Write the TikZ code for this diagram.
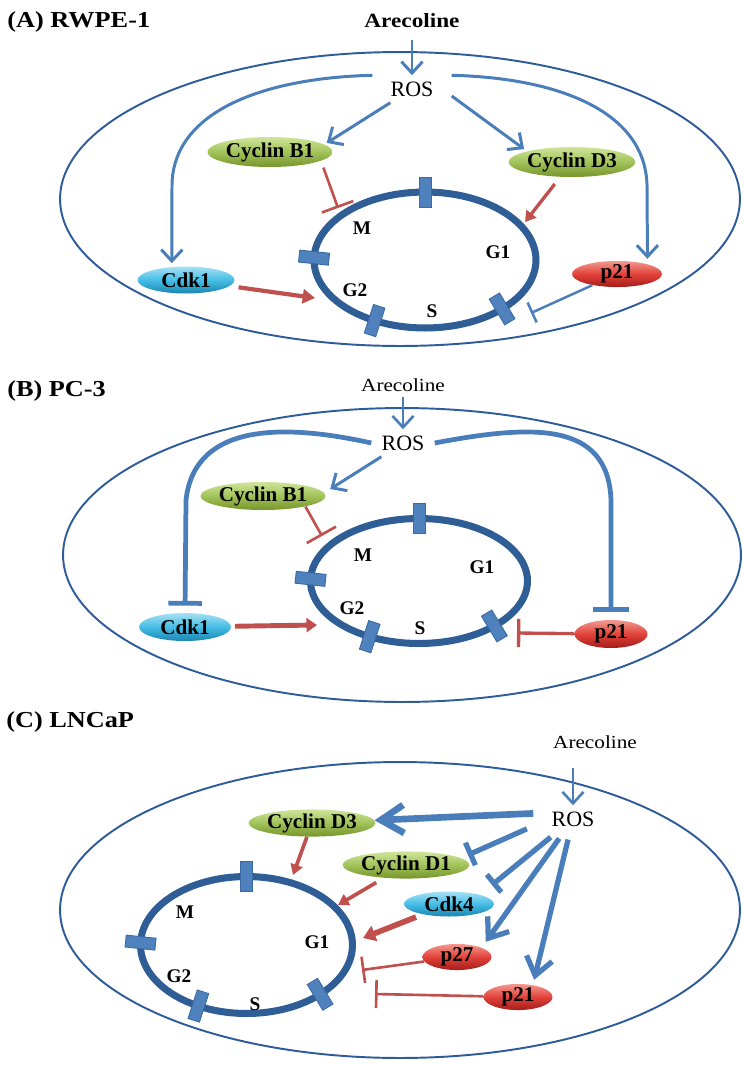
\documentclass[tikz,border=0pt]{standalone}
\usepackage{fontspec}
\setmainfont{Liberation Serif}
\newfontfamily\headfont{Liberation Serif}[FakeStretch=1.15]
\usepackage{xcolor}
\usepackage{tikz}
\usetikzlibrary{shapes.geometric,arrows.meta,calc}

\definecolor{cellblue}{HTML}{2E5C9A}
\definecolor{ringblue}{HTML}{2F5D95}
\definecolor{tickblue}{HTML}{4F81BD}
\definecolor{tickedge}{HTML}{3A6AA6}
\definecolor{arrblue}{HTML}{4A7EBB}
\definecolor{arrred}{HTML}{C0504D}
\definecolor{grtop}{HTML}{CFE59A}
\definecolor{grmid}{HTML}{A2C35A}
\definecolor{grbot}{HTML}{76952B}
\definecolor{cytop}{HTML}{A6E1F4}
\definecolor{cymid}{HTML}{45BDE6}
\definecolor{cybot}{HTML}{1B86B0}
\definecolor{rdtop}{HTML}{F29A90}
\definecolor{rdmid}{HTML}{E2423A}
\definecolor{rdbot}{HTML}{A41D1B}

\begin{document}
\begin{tikzpicture}[x=0.02cm, y=-0.02cm,
      panel/.style={font=\headfont\bfseries\fontsize{13}{15}\selectfont, anchor=base west, inner sep=0pt},
      drug/.style={font=\headfont\fontsize{10.5}{12}\selectfont, anchor=base},
      ros/.style={font=\fontsize{12.5}{14}\selectfont, inner xsep=0.36cm, inner ysep=0.12cm},
      phase/.style={font=\bfseries\fontsize{11}{13}\selectfont},
      cell/.style={ellipse, draw=cellblue, line width=1.1pt, inner sep=0pt},
      ring/.style={ellipse, draw=ringblue, line width=4pt, inner sep=0pt},
      tick/.style={rectangle, draw=tickedge, fill=tickblue, line width=0.5pt, inner sep=0pt,
        minimum width=0.24cm, minimum height=0.6cm},
      protein/.style={ellipse, inner sep=0pt, font=\bfseries\fontsize{12}{14}\selectfont},
      cyclin/.style={protein, top color=grtop, bottom color=grbot, middle color=grmid},
      cdk/.style={protein, top color=cytop, bottom color=cybot, middle color=cymid},
      cki/.style={protein, top color=rdtop, bottom color=rdbot, middle color=rdmid},
      act/.style={draw=arrblue, line width=1.7pt, -{Straight Barb[length=6.5pt,width=12pt]}},
      stopb/.style={draw=arrblue, line width=2.7pt, -{Bar[width=19pt]}},
      push/.style={draw=arrred, line width=2pt, -{Triangle[length=6pt,width=7pt]}},
      stopr/.style={draw=arrred, line width=1.5pt, -{Bar[width=19pt]}}
      ]
      \useasboundingbox (0,0) rectangle (743,1065);

      \node[panel] (aTitle) at (7,27) {(A) RWPE-1};
      \node[cell, minimum width=13.6cm, minimum height=5.88cm] (aCell) at (400,199) {};
      \node[drug, font=\headfont\bfseries\fontsize{11.5}{13}\selectfont] (aAre) at (412,27) {Arecoline};
      \node[ros] (aROS) at (412,89) {ROS};
      \node[ring, minimum width=4.44cm, minimum height=2.72cm] (aRing) at (425,260) {};
      \foreach \t/\r in {270/0,182/84,117/-18,46/31}
        \node[tick, rotate=\r] (aTick\t) at ($(aRing)+(\t:111 and 68)$) {};
      \node[phase] (aM) at (362,228) {M};
      \node[phase] (aG1) at (498,252) {G1};
      \node[phase] (aG2) at (355,290) {G2};
      \node[phase] (aS) at (432,311) {S};
      \node[cyclin, minimum width=2.34cm, minimum height=0.6cm] (aB1) at (270,152) {Cyclin B1};
      \node[cyclin, minimum width=2.36cm, minimum height=0.6cm] (aD3) at (572,162) {Cyclin D3};
      \node[cdk, minimum width=1.94cm, minimum height=0.54cm] (aCdk1) at (186,280) {Cdk1};
      \node[cki, minimum width=1.8cm, minimum height=0.52cm] (ap21) at (617,274) {p21};
      \coordinate (aMstop) at (338,208);
      \coordinate (aG1in) at (525,222);
      \coordinate (aG2in) at (315,298);
      \coordinate (aSstop) at (531,313);
      \draw[act, shorten <=3.5pt] (aAre) -- (aROS);
      \draw[act, shorten >=1.5pt] (aROS) -- (aB1.8);
      \draw[act, shorten >=2pt] (aROS.-10) -- (aD3.north west);
      \draw[act, shorten >=2pt] (aROS.north west) .. controls (262,78) and (173,112) .. (172,185) -- (aCdk1.137);
      \draw[act, shorten >=3pt] (aROS.north east) .. controls (560,78) and (645,112) .. (647,185) -- (ap21.18);
      \draw[stopr, shorten <=4pt] (aB1.-10) -- (aMstop);
      \draw[push, line width=1.9pt, shorten <=5pt] (aD3) -- (aG1in);
      \draw[push, line width=2.4pt, shorten <=5pt, -{Triangle[length=7pt,width=8pt]}] (aCdk1) -- (aG2in);
      \draw[stopb, line width=1.4pt, -{Bar[width=12.5pt]}] (ap21) -- (aSstop);

      \node[panel] (bTitle) at (7,396) {(B) PC-3};
      \node[cell, minimum width=13.56cm, minimum height=5.88cm] (bCell) at (402,555) {};
      \node[drug] (bAre) at (403,391) {Arecoline};
      \node[ros, inner xsep=0.2cm] (bROS) at (403,443) {ROS};
      \node[ring, minimum width=4.34cm, minimum height=2.5cm] (bRing) at (419,581) {};
      \foreach \t/\r in {270/0,182/84,117/-18,46/31}
        \node[tick, rotate=\r] (bTick\t) at ($(bRing)+(\t:108.5 and 62.5)$) {};
      \node[phase] (bM) at (363,555) {M};
      \node[phase] (bG1) at (482,567) {G1};
      \node[phase] (bG2) at (352,608) {G2};
      \node[phase] (bS) at (420,628) {S};
      \node[cyclin, minimum width=2.24cm, minimum height=0.56cm] (bB1) at (263,496) {Cyclin B1};
      \node[cdk, minimum width=1.84cm, minimum height=0.56cm] (bCdk1) at (185,627) {Cdk1};
      \node[cki, minimum width=1.46cm, minimum height=0.56cm] (bp21) at (611,634) {p21};
      \coordinate (bMstop) at (322,536);
      \coordinate (bG2in) at (317,625);
      \coordinate (bSstop) at (517,633);
      \draw[act, line width=1.5pt] (bAre) -- (bROS);
      \draw[act, shorten >=4pt] (bROS) -- (bB1.3);
      \draw[stopb, shorten >=4pt] (bROS.west) .. controls (290,425) and (195,420) .. (186,500) -- (bCdk1.north);
      \draw[stopb, shorten >=4.5pt, -{Bar[width=21pt]}] (bROS.east) .. controls (530,425) and (608,420) .. (611,500) -- (bp21.north);
      \draw[stopr] (bB1.-14) -- (bMstop);
      \draw[push, line width=2.8pt, shorten <=2pt, -{Triangle[length=6pt,width=8pt]}] (bCdk1) -- (bG2in);
      \draw[stopr, line width=1.9pt, -{Bar[width=16pt]}] (bp21) -- (bSstop);

      \node[panel] (cTitle) at (6,727) {(C) LNCaP};
      \node[cell, minimum width=13.6cm, minimum height=5.92cm] (cCell) at (400,910) {};
      \node[drug] (cAre) at (595,748) {Arecoline};
      \node[ros] (cROS) at (573,819) {ROS};
      \node[ring, minimum width=4.24cm, minimum height=2.74cm] (cRing) at (246.5,945) {};
      \foreach \t/\r in {270/0,182/84,117/-18,46/31}
        \node[tick, rotate=\r] (cTick\t) at ($(cRing)+(\t:106 and 68.5)$) {};
      \node[phase] (cM) at (185,912) {M};
      \node[phase] (cG1) at (317,942) {G1};
      \node[phase] (cG2) at (179,976) {G2};
      \node[phase] (cS) at (255,1004) {S};
      \node[cyclin, minimum width=2.12cm, minimum height=0.54cm] (cD3) at (312,823) {Cyclin D3};
      \node[cyclin, minimum width=2.12cm, minimum height=0.52cm] (cD1) at (406,865) {Cyclin D1};
      \node[cdk, minimum width=1.8cm, minimum height=0.5cm] (cCdk4) at (449,904) {Cdk4};
      \node[cki, minimum width=1.38cm, minimum height=0.5cm] (cp27) at (457,957) {p27};
      \node[cki, minimum width=1.38cm, minimum height=0.5cm] (cp21) at (518,997) {p21};
      \coordinate (cD1stop) at (468,855);
      \coordinate (cCdk4stop) at (492,885);
      \coordinate (cD3in) at (293,875);
      \coordinate (cD1in) at (338,905);
      \coordinate (cCdk4in) at (363,938);
      \coordinate (cp27stop) at (362,970);
      \coordinate (cp21stop) at (375,994);
      \draw[act, line width=1.5pt, shorten <=7.5pt] (cAre.south -| cROS) -- (cROS);
      \draw[act, line width=3.8pt, -{Straight Barb[length=13pt,width=16pt]}] (cROS.172) -- (cD3);
      \draw[stopb, line width=3pt, shorten <=4pt, -{Bar[width=14pt]}] (cROS.190) -- (cD1stop);
      \draw[stopb, line width=3pt, shorten <=4pt, -{Bar[width=13pt]}] (cROS) -- (cCdk4stop);
      \draw[act, line width=3pt, shorten <=4pt, shorten >=4pt, -{Straight Barb[length=10pt,width=15pt]}] (cROS) -- (cp27.north east);
      \draw[act, line width=3pt, shorten <=4pt, shorten >=3pt, -{Straight Barb[length=10pt,width=15pt]}] (cROS) -- (cp21.39);
      \draw[push, line width=2.1pt] (cD3) -- (cD3in);
      \draw[push, line width=2.1pt, shorten <=5pt] (cD1) -- (cD1in);
      \draw[push, line width=3.2pt, shorten <=4pt, -{Triangle[length=7pt,width=9pt]}] (cCdk4) -- (cCdk4in);
      \draw[stopr, -{Bar[width=15pt]}] (cp27) -- (cp27stop);
      \draw[stopr, -{Bar[width=16pt]}] (cp21) -- (cp21stop);
    \end{tikzpicture}
\end{document}
